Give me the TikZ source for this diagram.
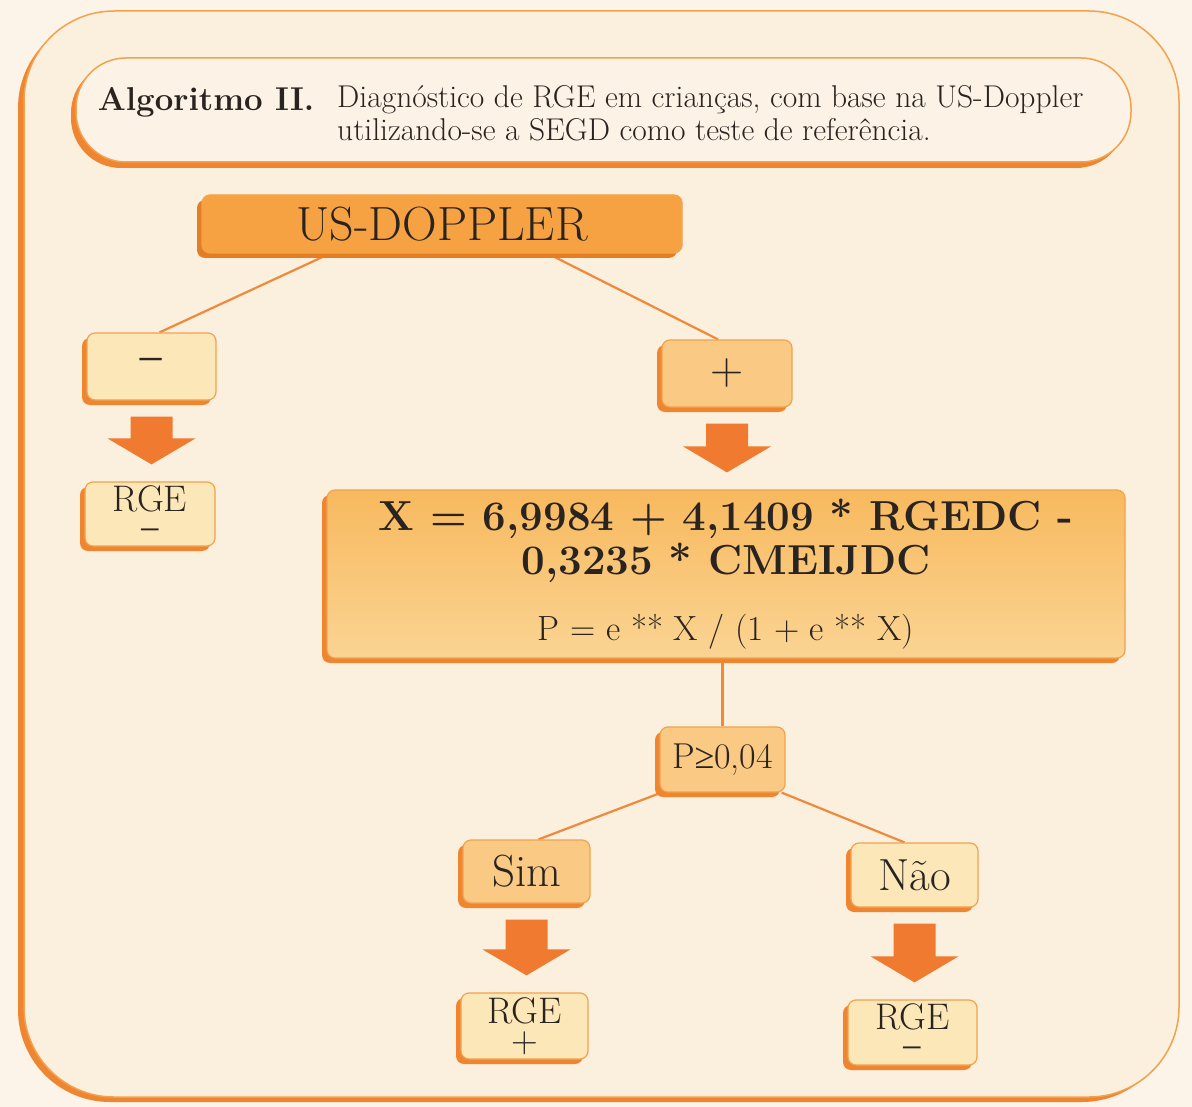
\documentclass[tikz,border=0pt]{standalone}
\usepackage{fontspec}
\newfontfamily\symf{Liberation Serif}
\usetikzlibrary{shadows,calc}
\definecolor{bgout}{HTML}{FCF4E8}
\definecolor{bgin}{HTML}{FBEFDE}
\definecolor{titlebg}{HTML}{FCF3E6}
\definecolor{bordc}{HTML}{EF8530}
\definecolor{thinc}{HTML}{F2A24C}
\definecolor{arrowc}{HTML}{EF7A30}
\definecolor{linec}{HTML}{EF8A3A}
\definecolor{usfill}{HTML}{F6A242}
\definecolor{usshadow}{HTML}{E57E22}
\definecolor{midfill}{HTML}{FAC983}
\definecolor{lightfill}{HTML}{FCE7B8}
\definecolor{formtop}{HTML}{F8B95E}
\definecolor{formbot}{HTML}{FAD493}
\definecolor{txt}{HTML}{2A2420}
\pgfdeclarelayer{back}
\pgfdeclarelayer{lines}
\pgfsetlayers{back,lines,main}
\newcommand\blockarrow[2]{%
  \fill[arrowc] let \p1=(#1.south), \p2=(#2.north) in
    (\x1-21pt,\y1-16pt) -- (\x1+21pt,\y1-16pt) -- (\x1+21pt,\y2+43pt) --
    (\x1+44pt,\y2+43pt) -- (\x1,\y2+17pt) -- (\x1-44pt,\y2+43pt) --
    (\x1-21pt,\y2+43pt) -- cycle;}
\newcommand\mns{{\symf\char"2212}}
\newcommand\gtreq{{\symf\char"2265}}
\begin{document}
\begin{tikzpicture}[x=1pt,y=-1pt,
  boxcore/.style={draw=thinc, line width=1.2pt, rounded corners=8pt, inner sep=0pt, text=txt, align=center},
  shad/.style={drop shadow={shadow xshift=-5pt, shadow yshift=-5pt, fill=#1, opacity=1}},
  lightbox/.style={boxcore, fill=lightfill, shad=bordc},
  midbox/.style={boxcore, fill=midfill, shad=bordc},
  conn/.style={draw=linec, line width=2.2pt},
  plain/.style={inner sep=0pt, text=txt},
  rgefont/.style={font=\fontsize{37}{26}\selectfont}]
\useasboundingbox (0,0) rectangle (1192,1107);
\begin{pgfonlayer}{back}
\fill[bgout] (0,0) rectangle (1192,1107);
% outer frame
\fill[bordc, rounded corners=92pt] (18,16) rectangle (1174,1102);
\filldraw[fill=bgin, draw=thinc, line width=1.5pt, rounded corners=90pt] (24,11) rectangle (1179,1097);
% title box
\fill[bordc, rounded corners=50pt] (71,63) rectangle (1126,168);
\filldraw[fill=titlebg, draw=thinc, line width=1.5pt, rounded corners=50pt] (76,58) rectangle (1131,162);
\end{pgfonlayer}
\node[plain, font=\fontsize{33}{36}\selectfont\bfseries] (alg) at (206,102) {Algoritmo II.};
\node[plain, anchor=west, align=left, font=\fontsize{31.5}{33}\selectfont] (desc) at (337,113)
  {Diagnóstico de RGE em crianças, com base na US-Doppler\\utilizando-se a SEGD como teste de referência.};
% nodes
\node[boxcore, fill=usfill, shad=usshadow, minimum width=480pt, minimum height=58pt,
  font=\fontsize{48}{52}\selectfont] (us) at (442,224) {US-DOPPLER};
\node[lightbox, minimum width=129pt, minimum height=67pt, font=\fontsize{48}{52}\selectfont] (minus) at (151.5,366.5) {\mns};
\node[lightbox, rgefont, minimum width=130pt, minimum height=64pt] (rge1) at (150,514) {RGE\\[5pt]{\fontsize{38}{26}\selectfont\mns}};
\node[midbox, minimum width=130pt, minimum height=67pt, font=\fontsize{46}{50}\selectfont] (plus) at (727,373.5) {+};
\node[boxcore, top color=formtop, bottom color=formbot, shad=bordc, minimum width=798pt, minimum height=168pt,
  font=\fontsize{42}{44}\selectfont] (form) at (726,574)
  {{\bfseries X = 6,9984 + 4,1409 * RGEDC -}\\{\bfseries 0,3235 * CMEIJDC}\\[22pt]{\fontsize{35}{40}\selectfont P = e ** X / (1 + e ** X)}};
\node[midbox, minimum width=125pt, minimum height=65pt, font=\fontsize{36}{40}\selectfont] (pbox) at (722.5,759.5) {P{\symf\gtreq}0,04};
\node[midbox, minimum width=127pt, minimum height=63pt, font=\fontsize{45}{48}\selectfont] (sim) at (526.5,871.5) {Sim};
\node[lightbox, minimum width=127pt, minimum height=64pt, font=\fontsize{45}{48}\selectfont] (nao) at (914.5,875) {Não};
\node[lightbox, rgefont, minimum width=127pt, minimum height=66pt] (rge2) at (524.5,1026) {RGE\\[3pt]+};
\node[lightbox, rgefont, minimum width=129pt, minimum height=65pt] (rge3) at (912.5,1032.5) {RGE\\[5pt]{\fontsize{38}{26}\selectfont\mns}};
% connectors
\begin{pgfonlayer}{lines}
\draw[conn] ($(us.south west)!0.267!(us.south east)$) -- ($(minus.north)+(8,0)$);
\draw[conn] ($(us.south west)!0.72!(us.south east)$) -- ($(plus.north)+(-9,0)$);
\draw[conn] (form.south -| pbox.north) -- (pbox.north);
\draw[conn] ($(pbox.south west)+(2,0)$) -- ($(sim.north)+(12,0)$);
\draw[conn] ($(pbox.south east)+(-4,0)$) -- ($(nao.north)+(-10,0)$);
\end{pgfonlayer}
\blockarrow{minus}{rge1}
\blockarrow{plus}{form}
\blockarrow{sim}{rge2}
\blockarrow{nao}{rge3}
\end{tikzpicture}
\end{document}
